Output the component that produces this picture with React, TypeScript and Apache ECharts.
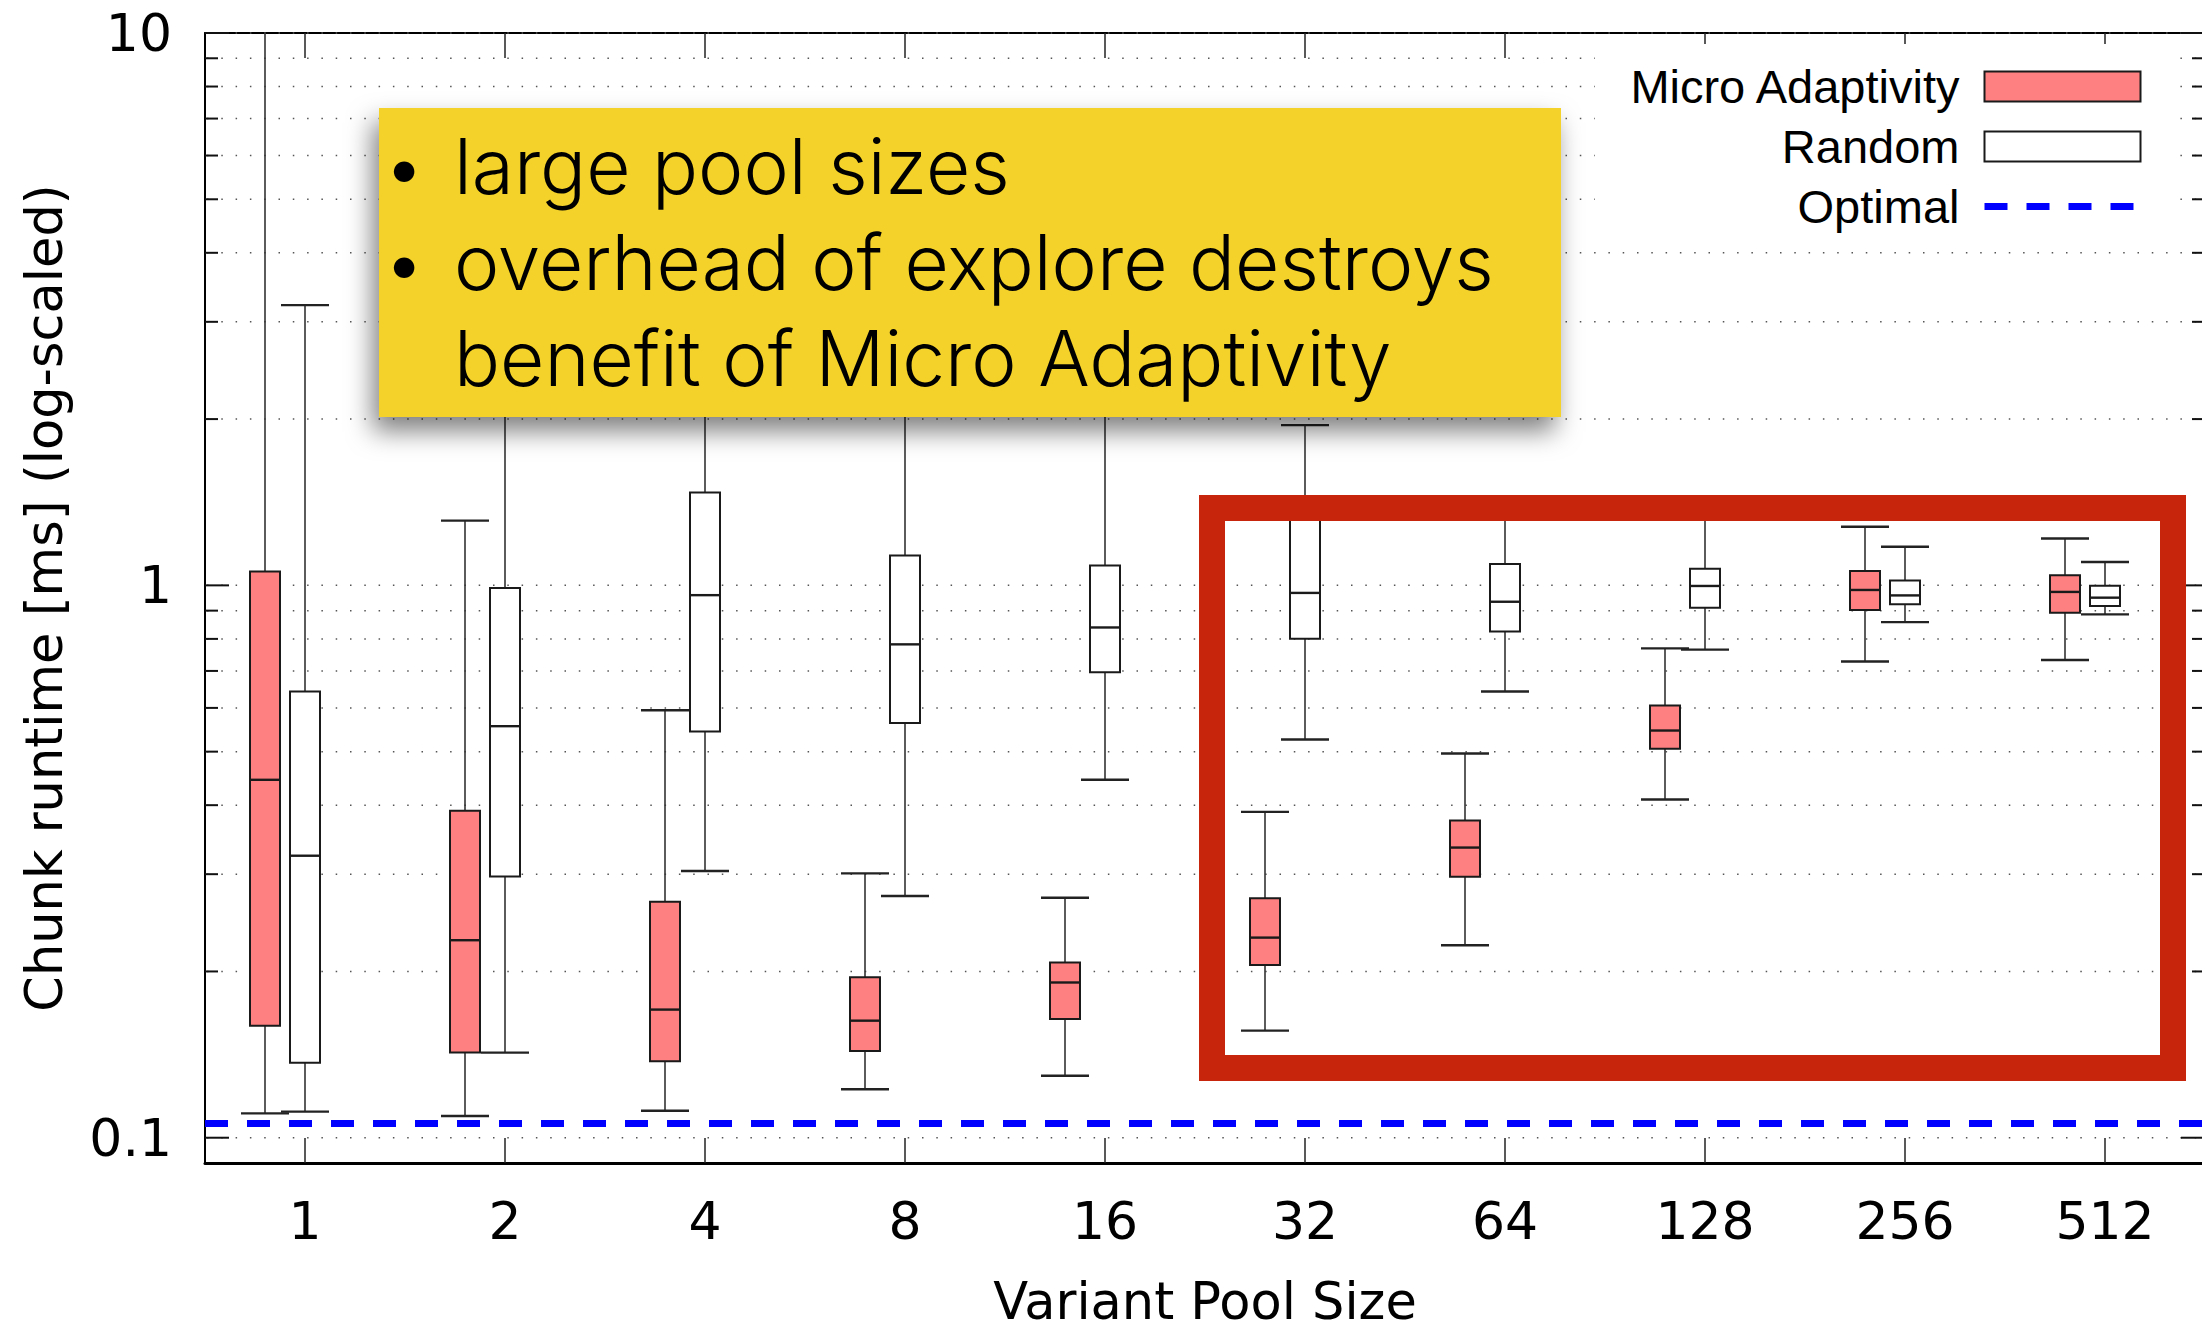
import React, { useEffect, useRef } from 'react';
import * as echarts from 'echarts';

const CATEGORIES = ['1', '2', '4', '8', '16', '32', '64', '128', '256', '512'];

// Micro Adaptivity box statistics (ms)
const MICRO_MIN = [0.1107, 0.1095, 0.1119, 0.1224, 0.1295, 0.1563, 0.2231, 0.4096, 0.728, 0.7326];
const MICRO_Q1 = [0.1595, 0.1426, 0.1375, 0.1436, 0.164, 0.2055, 0.2967, 0.506, 0.902, 0.892];
const MICRO_MEDIAN = [0.4446, 0.2278, 0.1706, 0.1629, 0.191, 0.2303, 0.3352, 0.546, 0.981, 0.973];
const MICRO_Q3 = [1.06, 0.3908, 0.2673, 0.1952, 0.2075, 0.2714, 0.3752, 0.606, 1.062, 1.0426];
const MICRO_MAX = [14, 1.31, 0.594, 0.301, 0.272, 0.389, 0.496, 0.769, 1.277, 1.216];

// Random box statistics (ms)
const RANDOM_MIN = [0.1115, 0.1426, 0.304, 0.274, 0.4448, 0.526, 0.6426, 0.765, 0.858, 0.886];
const RANDOM_Q1 = [0.1367, 0.297, 0.544, 0.5636, 0.696, 0.8006, 0.825, 0.911, 0.924, 0.918];
const RANDOM_MEDIAN = [0.324, 0.556, 0.96, 0.782, 0.839, 0.969, 0.934, 0.9975, 0.959, 0.95];
const RANDOM_Q3 = [0.6426, 0.989, 1.472, 1.132, 1.086, 1.38, 1.093, 1.072, 1.021, 0.9987];
const RANDOM_MAX = [3.216, 3.8, 5.0, 4.5, 2.6, 1.95, 1.4, 1.4, 1.175, 1.102];

const OPTIMAL = 0.106;

const Y_MIN = 0.09;
const Y_MAX = 10;
const Y_MAJOR_TICKS = [0.1, 1, 10];
const Y_TICK_LABELS = ['0.1', '1', '10'];
const Y_MINOR_TICKS = [0.2, 0.3, 0.4, 0.5, 0.6, 0.7, 0.8, 0.9, 2, 3, 4, 5, 6, 7, 8, 9];

const NOTE_LINES = ['large pool sizes', 'overhead of explore destroys', 'benefit of Micro Adaptivity'];
const NOTE_BULLETS = [true, true, false];

const LABEL_FONT = "'DejaVu Sans', sans-serif";
const LEGEND_FONT = "'Liberation Sans', Arial, sans-serif";
const NOTE_FONT = "Inter, 'Liberation Sans', sans-serif";

const RED_FILL = '#ff8080';
const BOX_STROKE = '#1a1a1a';
const OPTIMAL_COLOR = '#0000ff';

function boxRows(mins: number[], q1: number[], med: number[], q3: number[], max: number[]) {
  return CATEGORIES.map((_, i) => [i, mins[i], q1[i], med[i], q3[i], max[i]]);
}

function makeBoxRenderer(offset: number, fill: string) {
  return (params: any, api: any) => {
    const i = api.value(0);
    const cs = params.coordSys;
    const top = cs.y;
    const cx = api.coord([i, 1])[0] + offset;
    const yOf = (d: number) => api.coord([i, api.value(d)])[1];
    const yMin = yOf(1);
    const yQ1 = yOf(2);
    const yMed = yOf(3);
    const yQ3 = yOf(4);
    const yMax = yOf(5);
    const halfBox = 15;
    const halfCap = 24;
    const whisker = { stroke: '#333', lineWidth: 1.6 };
    const cap = { stroke: '#222', lineWidth: 2.4 };
    const children: any[] = [];
    children.push({ type: 'line', shape: { x1: cx, y1: yQ3, x2: cx, y2: Math.max(yMax, top) }, style: whisker });
    if (yMax >= top) {
      children.push({ type: 'line', shape: { x1: cx - halfCap, y1: yMax, x2: cx + halfCap, y2: yMax }, style: cap });
    }
    children.push({ type: 'line', shape: { x1: cx, y1: yQ1, x2: cx, y2: yMin }, style: whisker });
    children.push({ type: 'line', shape: { x1: cx - halfCap, y1: yMin, x2: cx + halfCap, y2: yMin }, style: cap });
    children.push({
      type: 'rect',
      shape: { x: cx - halfBox, y: yQ3, width: halfBox * 2, height: yQ1 - yQ3 },
      style: { fill, stroke: BOX_STROKE, lineWidth: 2 },
    });
    children.push({ type: 'line', shape: { x1: cx - halfBox, y1: yMed, x2: cx + halfBox, y2: yMed }, style: { stroke: BOX_STROKE, lineWidth: 2.4 } });
    return { type: 'group', children };
  };
}

function gridRenderer(params: any, api: any) {
  const v = api.value(1);
  const y = api.coord([0, v])[1];
  const cs = params.coordSys;
  const major = Y_MAJOR_TICKS.some((m) => Math.abs(m - v) < 1e-9);
  const len = major ? 24 : 13;
  return {
    type: 'group',
    silent: true,
    children: [
      { type: 'line', shape: { x1: cs.x + 2, y1: y, x2: cs.x + cs.width, y2: y }, style: { stroke: '#555', lineWidth: 1.5, lineDash: [1.5, 12.8] } },
      { type: 'line', shape: { x1: cs.x, y1: y, x2: cs.x + len, y2: y }, style: { stroke: '#111', lineWidth: 2 } },
      { type: 'line', shape: { x1: cs.x + cs.width - len, y1: y, x2: cs.x + cs.width, y2: y }, style: { stroke: '#111', lineWidth: 2 } },
    ],
  };
}

export default function App() {
  const ref = useRef<HTMLDivElement>(null);

  useEffect(() => {
    if (!ref.current) return;
    const chart = echarts.init(ref.current, null, { renderer: 'svg' });

    const gridValues = [...Y_MAJOR_TICKS, ...Y_MINOR_TICKS].map((v) => [0, v]);

    const noteGraphics: any[] = [
      {
        type: 'rect',
        z: 60,
        silent: true,
        shape: { x: 379, y: 108, width: 1182, height: 309 },
        style: { fill: '#f4d22b', shadowBlur: 26, shadowOffsetX: -6, shadowOffsetY: 14, shadowColor: 'rgba(0,0,0,0.5)' },
      },
    ];
    NOTE_LINES.forEach((line, k) => {
      const cy = 166 + k * 96;
      if (NOTE_BULLETS[k]) {
        noteGraphics.push({
          type: 'text',
          z: 61,
          silent: true,
          x: 404,
          y: cy,
          style: { text: '•', fill: '#000', fontFamily: NOTE_FONT, fontSize: 76, fontWeight: 300, align: 'center', verticalAlign: 'middle' },
        });
      }
      noteGraphics.push({
        type: 'text',
        z: 61,
        silent: true,
        x: 454,
        y: cy,
        style: { text: line, fill: '#000', fontFamily: NOTE_FONT, fontSize: 76.5, fontWeight: 300, align: 'left', verticalAlign: 'middle' },
      });
    });

    const option: any = {
      animation: false,
      backgroundColor: '#ffffff',
      grid: { left: 205, top: 33, width: 2000, height: 1130, containLabel: false, outerBoundsMode: 'none' },
      legend: {
        orient: 'vertical',
        align: 'right',
        right: 26,
        top: 44,
        padding: [19, 32, 7, 33],
        backgroundColor: '#ffffff',
        itemWidth: 156,
        itemHeight: 30,
        itemGap: 13,
        selectedMode: false,
        lineStyle: { width: 7 },
        textStyle: { fontFamily: LEGEND_FONT, fontSize: 47, color: '#000', padding: [0, 20, 0, 0] },
        data: [
          { name: 'Micro Adaptivity', icon: 'rect', itemStyle: { color: RED_FILL, borderColor: BOX_STROKE, borderWidth: 2 } },
          { name: 'Random', icon: 'rect', itemStyle: { color: '#ffffff', borderColor: BOX_STROKE, borderWidth: 2 } },
          { name: 'Optimal', itemStyle: { color: 'rgba(0,0,0,0)', borderColor: 'rgba(0,0,0,0)', borderWidth: 0 } },
        ],
      },
      xAxis: [
        {
          type: 'category',
          data: CATEGORIES,
          position: 'bottom',
          boundaryGap: true,
          name: 'Variant Pool Size',
          nameLocation: 'middle',
          nameGap: 113,
          nameTextStyle: { fontFamily: LABEL_FONT, fontSize: 51, lineHeight: 51, color: '#000' },
          axisLine: { lineStyle: { color: '#000', width: 3 } },
          axisTick: { show: true, inside: true, alignWithLabel: true, length: 25, lineStyle: { color: '#222', width: 1.5 } },
          axisLabel: { fontFamily: LABEL_FONT, fontSize: 52, color: '#000', margin: 32 },
          splitLine: { show: false },
        },
        {
          type: 'category',
          data: CATEGORIES,
          position: 'top',
          boundaryGap: true,
          axisLine: { lineStyle: { color: '#000', width: 2 } },
          axisTick: { show: true, inside: true, alignWithLabel: true, length: 25, lineStyle: { color: '#222', width: 1.5 } },
          axisLabel: { show: false },
          splitLine: { show: false },
        },
      ],
      yAxis: {
        type: 'log',
        logBase: 10,
        min: Y_MIN,
        max: Y_MAX,
        name: 'Chunk runtime [ms] (log-scaled)',
        nameLocation: 'middle',
        nameGap: 135,
        nameTextStyle: { fontFamily: LABEL_FONT, fontSize: 51, color: '#000' },
        axisLine: { show: true, lineStyle: { color: '#000', width: 2 } },
        axisTick: { show: false },
        splitLine: { show: false },
        axisLabel: {
          fontFamily: LABEL_FONT,
          fontSize: 52,
          color: '#000',
          margin: 33,
          showMinLabel: false,
          formatter: (v: number) => {
            const l = Math.log10(v);
            const r = Math.round(l);
            if (Math.abs(l - r) > 1e-6) return '';
            const idx = Y_MAJOR_TICKS.findIndex((m) => Math.abs(Math.log10(m) - r) < 1e-6);
            return idx >= 0 ? Y_TICK_LABELS[idx] : '';
          },
        },
      },
      series: [
        {
          type: 'custom',
          name: 'grid',
          silent: true,
          z: 1,
          renderItem: gridRenderer,
          encode: { x: 0, y: 1 },
          data: gridValues,
        },
        {
          type: 'line',
          name: 'Optimal',
          data: [],
          symbol: 'none',
          z: 3,
          itemStyle: { color: OPTIMAL_COLOR },
          lineStyle: { color: OPTIMAL_COLOR, width: 7, type: [23, 19] },
          markLine: {
            silent: true,
            precision: 4,
            symbol: ['none', 'none'],
            label: { show: false },
            lineStyle: { color: OPTIMAL_COLOR, width: 7, type: [23, 19] },
            data: [{ yAxis: OPTIMAL }],
          },
        },
        {
          type: 'custom',
          name: 'Micro Adaptivity',
          z: 4,
          itemStyle: { color: RED_FILL },
          renderItem: makeBoxRenderer(-40, RED_FILL),
          encode: { x: 0, y: [1, 2, 3, 4, 5] },
          data: boxRows(MICRO_MIN, MICRO_Q1, MICRO_MEDIAN, MICRO_Q3, MICRO_MAX),
        },
        {
          type: 'custom',
          name: 'Random',
          z: 4,
          itemStyle: { color: '#ffffff' },
          renderItem: makeBoxRenderer(0, '#ffffff'),
          encode: { x: 0, y: [1, 2, 3, 4, 5] },
          data: boxRows(RANDOM_MIN, RANDOM_Q1, RANDOM_MEDIAN, RANDOM_Q3, RANDOM_MAX),
        },
      ],
      graphic: [
        {
          type: 'rect',
          z: 50,
          silent: true,
          shape: { x: 1212, y: 508, width: 961, height: 560 },
          style: { fill: 'transparent', stroke: '#c7260c', lineWidth: 26 },
        },
        ...noteGraphics,
      ],
    };

    chart.setOption(option);
    return () => chart.dispose();
  }, []);

  return (
    <div
      ref={ref}
      style={{ position: 'fixed', left: 0, top: 0, width: '2202px', height: '1333px', background: '#fff' }}
    />
  );
}
